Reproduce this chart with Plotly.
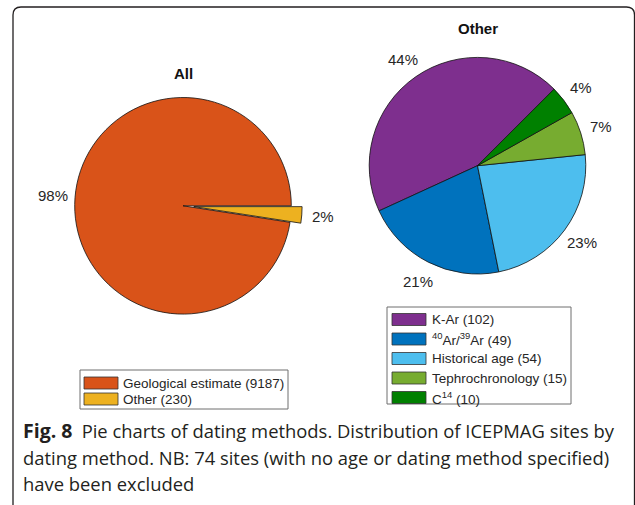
import math
import plotly.graph_objects as go

W, H = 635, 505

# ---------------- data ----------------
all_labels = ["Geological estimate (9187)", "Other (230)"]
all_values = [9187, 230]
all_colors = ["#D95319", "#EDB120"]
all_pull = [0, 0.1]

other_labels = ["K-Ar (102)", "<sup>40</sup>Ar/<sup>39</sup>Ar (49)", "Historical age (54)",
                "Tephrochronology (15)", "C<sup>14</sup> (10)"]
other_values = [102, 49, 54, 15, 10]
other_colors = ["#7E2F8E", "#0072BD", "#4DBEEE", "#77AC30", "#008000"]
other_pull = [0, 0, 0, 0, 0]

titles = ["All", "Other"]

caption_lines = [
    "<span style='font-size:19.5px'><b>Fig. 8</b></span>\u2002Pie charts of dating methods. Distribution of ICEPMAG sites by",
    "dating method. NB: 74 sites (with no age or dating method specified)",
    "have been excluded",
]

# ---------------- helpers ----------------
def px(x):
    return x / W


def py(y):
    return 1 - y / H


TEXT = "#262626"
SANS = "Liberation Sans, Arial, Helvetica, sans-serif"

fig = go.Figure()
annotations = []
shapes = []


def add_pie(labels, values, colors, pull, cx, cy, r, start_deg, title, title_gap):
    """start_deg: math angle (ccw from 3 o'clock) where the first slice begins."""
    half = r * (1 + max(pull))
    total = sum(values)
    first_span = 360 * values[0] / total
    # plotly (counterclockwise): first slice ends (ccw-wise) at math angle 90 - rotation
    rotation = 90 - (start_deg + first_span)
    fig.add_trace(go.Pie(
        labels=labels, values=values, sort=False, direction="counterclockwise",
        rotation=rotation, pull=pull, textinfo="none",
        marker=dict(colors=colors, line=dict(color="#111111", width=0.8)),
        domain=dict(x=[px(cx - half), px(cx + half)], y=[py(cy + half), py(cy - half)]),
        showlegend=False, hoverinfo="label+percent",
    ))
    cum = 0
    for v, p in zip(values, pull):
        mid = math.radians(start_deg + 360 * (cum + v / 2) / total)
        cum += v
        rr = (1.2 + p) * r
        lx = cx + rr * math.cos(mid)
        ly = cy - rr * math.sin(mid)
        annotations.append(dict(
            x=px(lx), y=py(ly), xref="paper", yref="paper", showarrow=False,
            text=f"{round(100 * v / total)}%", xanchor="center", yanchor="middle",
            font=dict(family=SANS, size=15, color=TEXT)))
    annotations.append(dict(
        x=px(cx), y=py(cy - r - title_gap), xref="paper", yref="paper", showarrow=False,
        text=f"<b>{title}</b>", xanchor="center", yanchor="middle",
        font=dict(family=SANS, size=15, color="#111111")))


def add_legend(labels, colors, box, row0, step, sw_x0, sw_x1, text_x):
    x0, y0, x1, y1 = box
    shapes.append(dict(type="rect", xref="paper", yref="paper",
                       x0=px(x0), x1=px(x1), y0=py(y1), y1=py(y0),
                       line=dict(color="#6e6e6e", width=1), fillcolor="white", layer="below"))
    for i, (lab, col) in enumerate(zip(labels, colors)):
        yc = row0 + i * step
        shapes.append(dict(type="rect", xref="paper", yref="paper",
                           x0=px(sw_x0), x1=px(sw_x1), y0=py(yc + 6), y1=py(yc - 6),
                           line=dict(color="#333333", width=0.8), fillcolor=col))
        annotations.append(dict(
            x=px(text_x), y=py(yc), xref="paper", yref="paper", showarrow=False,
            text=lab, xanchor="left", yanchor="middle",
            font=dict(family=SANS, size=13.5, color=TEXT)))


add_pie(all_labels, all_values, all_colors, all_pull, 183, 205.8, 108.3, 0, titles[0], 24.5)
add_pie(other_labels, other_values, other_colors, other_pull, 477.5, 165.7, 108.3, 45, titles[1], 28.4)

add_legend(all_labels, all_colors, (80, 370, 288, 409), 383, 16, 84, 118, 121)
add_legend(other_labels, other_colors, (387, 307, 571, 404), 319.5, 19.5, 392, 426, 430)

# caption
for i, line in enumerate(caption_lines):
    annotations.append(dict(
        x=px(21), y=py(430.5 + i * 26.5), xref="paper", yref="paper", showarrow=False,
        text=line, xanchor="left", yanchor="middle",
        font=dict(family="Open Sans, Noto Sans, sans-serif", size=18.4, color="#231f20")))

# rounded frame
L, T, R, B, rad = 13, 7, 634.5, 507, 8
frame = (f"M {px(L)},{py(B)} L {px(L)},{py(T + rad)} Q {px(L)},{py(T)} {px(L + rad)},{py(T)} "
         f"L {px(R - rad)},{py(T)} Q {px(R)},{py(T)} {px(R)},{py(T + rad)} L {px(R)},{py(B)}")
shapes.append(dict(type="path", xref="paper", yref="paper", path=frame,
                   line=dict(color="#231f20", width=1.3)))

fig.update_layout(
    width=W, height=H, margin=dict(l=0, r=0, t=0, b=0),
    paper_bgcolor="white", plot_bgcolor="white",
    annotations=annotations, shapes=shapes, showlegend=False,
)

fig.write_html("out.html", config={"displayModeBar": False},
               post_script="document.body.style.margin='0';document.body.style.overflow='hidden';")
